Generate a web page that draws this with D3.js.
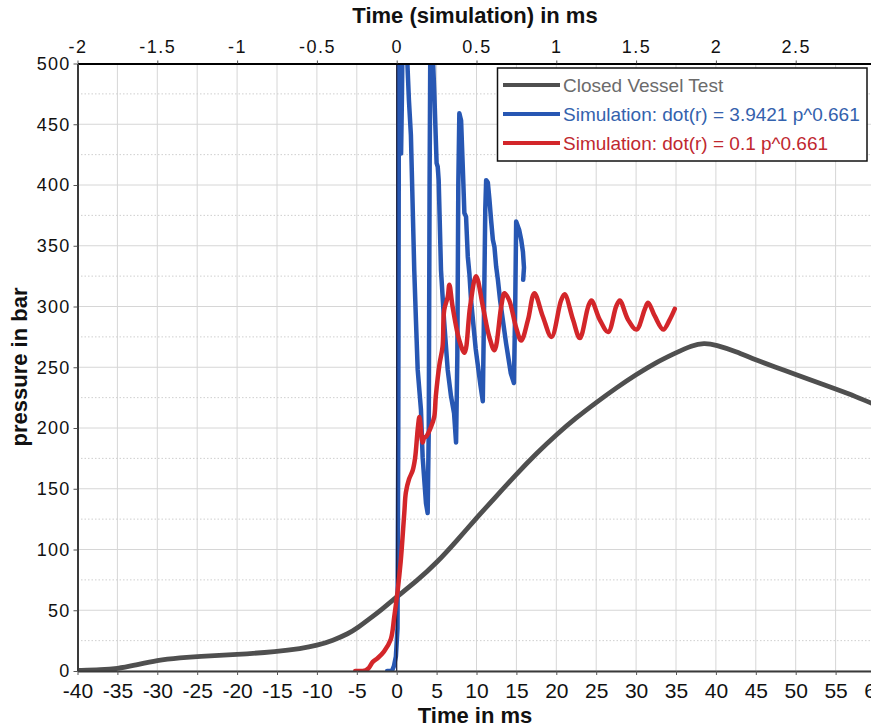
<!DOCTYPE html>
<html>
<head>
<meta charset="utf-8">
<script src="https://cdn.jsdelivr.net/npm/d3@7"></script>
<style>
  html, body { margin: 0; padding: 0; background: #fff; }
  svg { display: block; }
  text { font-family: "Liberation Sans", Arial, Helvetica, sans-serif; }
</style>
</head>
<body>
<svg id="chart" width="871" height="728"></svg>
<script>
// ---------- data ----------
const bottomTicks = [-40,-35,-30,-25,-20,-15,-10,-5,0,5,10,15,20,25,30,35,40,45,50,55,60];
const topTicks = [-2,-1.5,-1,-0.5,0,0.5,1,1.5,2,2.5];
const yTicks = [0,50,100,150,200,250,300,350,400,450,500];
const yMinorTicks = [25,75,125,175,225,275,325,375,425,475];

const seriesNames = ["Closed Vessel Test", "Simulation: dot(r) = 3.9421 p^0.661", "Simulation: dot(r) = 0.1 p^0.661"];

// Closed vessel test [time ms, pressure bar]
const closedVessel = [
  [-40,0.5],[-37,1],[-35,2],[-33,4.5],[-30,9],[-27,11],[-25,12],[-20,13.5],[-15,16],[-12,18.5],
  [-10,21],[-8,25],[-6,31],[-5,35],[-3,45],[-2,50],[0,61],[2.5,74],[5,89],[7.5,107],[10,126],
  [12.5,144],[15,162],[17.5,179],[20,194.5],[22.5,208.5],[25,221],[27.5,233],[30,244],[32.5,254],
  [35,262],[37,268],[38.5,270],[40,268.5],[42.5,263],[45,256],[47.5,250],[50,244],[52.5,238],
  [55,232],[57.5,226],[60,219]
];

// Simulation, fast burn rate
const simFast = [
  [-1.2,0],[-0.6,0],[-0.35,4],[-0.1,12],[0.1,35],[0.2,200],[0.3,560],[0.42,520],[0.55,426],
  [0.65,470],[0.8,560],[1.1,560],[1.34,500],[1.53,470],[1.78,441],[2.2,330],[2.41,289],
  [2.63,248],[3.04,215],[3.25,176],[3.67,138],[3.88,130],[4.02,200],[4.12,400],[4.25,560],
  [4.45,520],[4.71,476],[5.0,418],[5.14,415],[5.26,404],[5.55,330],[5.93,289],[6.39,248],
  [6.81,226],[7.19,212],[7.44,188],[7.6,260],[7.72,400],[7.85,459],[8.07,453],[8.28,415],
  [8.48,377],[8.69,374],[8.91,341],[9.11,327],[9.32,305],[9.9,265],[10.5,235],[10.79,222],
  [10.95,300],[11.1,380],[11.21,404],[11.42,402],[11.62,388],[11.83,371],[12.05,355],
  [12.25,349],[12.46,333],[12.68,322],[12.96,305],[13.7,270],[14.3,245],[14.69,237],
  [14.85,300],[14.97,370],[15.35,363],[15.6,355],[15.82,345],[15.95,332],[15.85,322]
];

// Simulation, slow burn rate
const simSlow = [
  [-5.2,0],[-3.9,0.5],[-3.5,2.5],[-3.0,7.5],[-2.4,10.5],[-1.6,16],[-0.75,26],[-0.3,45],
  [0.1,65],[0.5,90],[0.95,130],[1.15,147],[1.55,158],[2.0,165],[2.3,175],[2.65,200],
  [2.85,209],[3.25,188],[3.45,192],[3.7,193],[4.3,201],[4.7,209],[4.9,226],[5.35,252],
  [5.75,267],[5.95,297],[6.4,308],[6.6,318],[7.0,300],[7.85,272],[8.5,262],[9.2,300],
  [9.95,325],[10.8,300],[11.6,275],[12.25,264],[13.1,300],[13.5,311],[14.1,305],[14.95,283],
  [15.6,272],[16.45,289],[17.25,311],[18.3,292],[19.4,275],[20.6,305],[21.05,310],[22.1,289],
  [22.95,274],[24.0,300],[24.4,305],[25.45,289],[26.5,279],[27.5,300],[27.95,305],[29.0,289],
  [30.05,281],[31.1,298],[31.5,303],[32.35,292],[33.4,281],[34.2,289],[34.85,298]
];

// ---------- layout ----------
const svg = d3.select("#chart");
const mLeft = 77.5, mRight = 875.5, mTop = 63.5, mBottom = 671;
const x = d3.scaleLinear().domain([-40, 60]).range([mLeft, mRight]);
const xTop = d3.scaleLinear().domain([-2, 3]).range([mLeft, mRight]);
const y = d3.scaleLinear().domain([0, 500]).range([mBottom, mTop]);

const colors = ["#4f4f4f", "#2757b3", "#d3262a"];
const textColors = ["#6b6b6b", "#3462ad", "#c0282f"];

svg.append("defs").append("clipPath").attr("id", "plotclip")
  .append("rect").attr("x", mLeft).attr("y", mTop).attr("width", mRight - mLeft).attr("height", mBottom - mTop);

// grid
const grid = svg.append("g");
grid.selectAll("line.v").data(bottomTicks).join("line").attr("class", "v")
  .attr("x1", d => x(d)).attr("x2", d => x(d)).attr("y1", mTop).attr("y2", mBottom)
  .attr("stroke", "#d6d6d6").attr("stroke-width", 1);
grid.selectAll("line.h").data(yTicks).join("line").attr("class", "h")
  .attr("x1", mLeft).attr("x2", mRight).attr("y1", d => y(d)).attr("y2", d => y(d))
  .attr("stroke", "#d6d6d6").attr("stroke-width", 1);
grid.selectAll("line.hm").data(yMinorTicks).join("line").attr("class", "hm")
  .attr("x1", mLeft).attr("x2", mRight).attr("y1", d => y(d)).attr("y2", d => y(d))
  .attr("stroke", "#cfcfcf").attr("stroke-width", 1).attr("stroke-dasharray", "1.5,2");

// curves
const plot = svg.append("g").attr("clip-path", "url(#plotclip)");
const lineBasis = d3.line().x(d => x(d[0])).y(d => y(d[1])).curve(d3.curveBasis);
const lineSmooth = d3.line().x(d => x(d[0])).y(d => y(d[1])).curve(d3.curveCatmullRom.alpha(0.5));
const lineLin = d3.line().x(d => x(d[0])).y(d => y(d[1]));

plot.append("path").datum(closedVessel).attr("d", lineBasis)
  .attr("fill", "none").attr("stroke", colors[0]).attr("stroke-width", 4.8).attr("stroke-linejoin", "round");
plot.append("path").datum(simFast).attr("d", lineLin)
  .attr("fill", "none").attr("stroke", colors[1]).attr("stroke-width", 4.5).attr("stroke-linejoin", "round").attr("stroke-linecap", "round");
plot.append("line").attr("x1", x(0)).attr("x2", x(0)).attr("y1", mTop).attr("y2", mBottom)
  .attr("stroke", "#1c1f3a").attr("stroke-width", 1.2);
plot.append("path").datum(simSlow).attr("d", lineSmooth)
  .attr("fill", "none").attr("stroke", colors[2]).attr("stroke-width", 4.5).attr("stroke-linejoin", "round").attr("stroke-linecap", "round");

// axes
const axB = svg.append("g").attr("transform", `translate(0,${mBottom})`)
  .call(d3.axisBottom(x).tickValues(bottomTicks).tickSize(4).tickSizeOuter(0).tickFormat(d3.format("d")));
axB.select(".domain").attr("stroke", "#3a3a3a").attr("stroke-width", 2);
axB.selectAll(".tick line").attr("stroke", "#555");
axB.selectAll("text").attr("font-size", 21).attr("fill", "#111").attr("dy", "0.75em").attr("y", 11)
  .text(d => d < 0 ? "-" + Math.abs(d) : d);

const axT = svg.append("g").attr("transform", `translate(0,${mTop})`)
  .call(d3.axisTop(xTop).tickValues(topTicks).tickSize(3).tickSizeOuter(0));
axT.select(".domain").attr("stroke", "#000").attr("stroke-width", 2);
axT.selectAll(".tick line").attr("stroke", "#555");
axT.selectAll("text").attr("font-size", 18).attr("fill", "#111").attr("y", -11).attr("dy", 0)
  .attr("letter-spacing", 1.5)
  .text(d => d < 0 ? "-" + Math.abs(d) : String(d));

const axL = svg.append("g").attr("transform", `translate(${mLeft},0)`)
  .call(d3.axisLeft(y).tickValues(yTicks).tickSize(4).tickSizeOuter(0));
axL.select(".domain").attr("stroke", "#3a3a3a").attr("stroke-width", 2);
axL.selectAll(".tick line").attr("stroke", "#555");
axL.selectAll("text").attr("font-size", 18).attr("fill", "#111").attr("x", -7).attr("letter-spacing", 1.2);

// titles
svg.append("text").attr("x", 475).attr("y", 23).attr("text-anchor", "middle")
  .attr("font-size", 22).attr("font-weight", "bold").attr("fill", "#111").text("Time (simulation) in ms");
svg.append("text").attr("x", 475).attr("y", 723).attr("text-anchor", "middle")
  .attr("font-size", 22).attr("font-weight", "bold").attr("fill", "#111").text("Time in ms");
svg.append("text").attr("transform", `translate(27,367) rotate(-90)`).attr("text-anchor", "middle")
  .attr("font-size", 22).attr("font-weight", "bold").attr("fill", "#111").text("pressure in bar");

// legend
const lg = svg.append("g");
lg.append("rect").attr("x", 497.5).attr("y", 68).attr("width", 369.5).attr("height", 93)
  .attr("fill", "#fff").attr("stroke", "#111").attr("stroke-width", 1.5);
const legendY = [85, 114, 143];
seriesNames.forEach((name, i) => {
  lg.append("line").attr("x1", 503).attr("x2", 560).attr("y1", legendY[i]).attr("y2", legendY[i])
    .attr("stroke", colors[i]).attr("stroke-width", 4);
  lg.append("text").attr("x", 563).attr("y", legendY[i] + 7).attr("font-size", 19)
    .attr("fill", textColors[i]).text(name);
});
</script>
</body>
</html>
